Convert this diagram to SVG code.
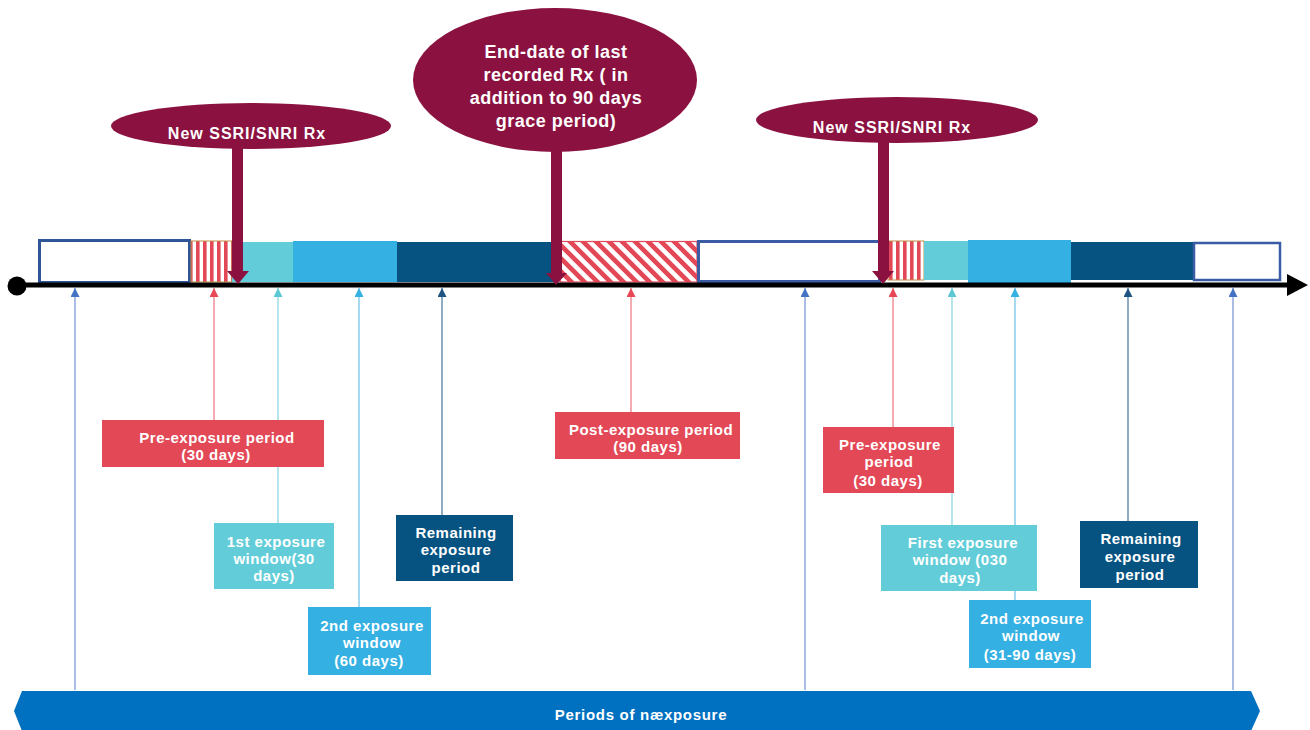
<svg xmlns="http://www.w3.org/2000/svg" width="1310" height="730" viewBox="0 0 1310 730">
<style>
.t{font-family:"Liberation Sans",Arial,sans-serif;font-weight:bold;fill:#fff;text-anchor:middle}
.bx{font-size:15px;letter-spacing:0.5px}
.bub{font-size:16px;letter-spacing:1px}
.big{font-size:18px;letter-spacing:0.5px}
.maroon{fill:#8B1240}
.open{fill:#fff;stroke:#2F5597;stroke-width:3}
.red{fill:#E34856}
.cyan{fill:#62CDD8}
.lblue{fill:#35B0E2}
.dblue{fill:#065381}
.ln{stroke-width:1.3;fill:none}
</style>
<defs>
<pattern id="vstripe" patternUnits="userSpaceOnUse" width="7" height="10">
<rect width="7" height="10" fill="#fff"/>
<rect width="3.6" height="10" fill="#E34856"/>
</pattern>
<pattern id="dstripe" patternUnits="userSpaceOnUse" width="9.2" height="10" patternTransform="rotate(-45)">
<rect width="9.2" height="10" fill="#fff"/>
<rect width="4.6" height="10" fill="#E34856"/>
</pattern>
<marker id="mBlue" markerUnits="userSpaceOnUse" markerWidth="9" markerHeight="9" viewBox="0 0 8 8" refX="8" refY="4" orient="auto"><path d="M0,0 L8,4 L0,8 z" fill="#4472C4"/></marker>
<marker id="mRed" markerUnits="userSpaceOnUse" markerWidth="9" markerHeight="9" viewBox="0 0 8 8" refX="8" refY="4" orient="auto"><path d="M0,0 L8,4 L0,8 z" fill="#E84855"/></marker>
<marker id="mCyan" markerUnits="userSpaceOnUse" markerWidth="9" markerHeight="9" viewBox="0 0 8 8" refX="8" refY="4" orient="auto"><path d="M0,0 L8,4 L0,8 z" fill="#5BC8D6"/></marker>
<marker id="mLblue" markerUnits="userSpaceOnUse" markerWidth="9" markerHeight="9" viewBox="0 0 8 8" refX="8" refY="4" orient="auto"><path d="M0,0 L8,4 L0,8 z" fill="#35B0E2"/></marker>
<marker id="mDblue" markerUnits="userSpaceOnUse" markerWidth="9" markerHeight="9" viewBox="0 0 8 8" refX="8" refY="4" orient="auto"><path d="M0,0 L8,4 L0,8 z" fill="#1F5583"/></marker>
</defs>
<rect width="1310" height="730" fill="#fff"/>

<!-- timeline bars -->
<g id="bars">
<rect class="open" x="39.5" y="240.5" width="150" height="42"/>
<rect x="191" y="241" width="41" height="41" fill="url(#vstripe)" stroke="#C0904A" stroke-width="1"/>
<rect class="cyan" x="232" y="242" width="61" height="40"/>
<rect class="lblue" x="293" y="241" width="104" height="41"/>
<rect class="dblue" x="397" y="242" width="159" height="40"/>
<rect x="560" y="241.5" width="137" height="40.5" fill="url(#dstripe)" stroke="#E34856" stroke-width="1.2"/>
<rect x="698.5" y="241.5" width="181" height="40" fill="#fff" stroke="#3B5BA5" stroke-width="3"/>
<rect x="888" y="241" width="36" height="39" fill="url(#vstripe)" stroke="#C0904A" stroke-width="1"/>
<rect class="cyan" x="924" y="241" width="44" height="39"/>
<rect class="lblue" x="968" y="240" width="103" height="43"/>
<rect class="dblue" x="1071" y="242" width="122" height="38"/>
<rect x="1194" y="243" width="86" height="37" fill="#fff" stroke="#3B5BA5" stroke-width="2.5"/>
</g>

<!-- axis -->
<g id="axis">
<line x1="16" y1="285" x2="1290" y2="285" stroke="#000" stroke-width="5"/>
<circle cx="17" cy="286" r="9.5" fill="#000"/>
<polygon points="1287,274 1308,285 1287,296" fill="#000"/>
</g>

<!-- connectors -->
<g id="connectors">
<line class="ln" x1="75" y1="690" x2="75" y2="288" stroke="#7C9AD6" marker-end="url(#mBlue)"/>
<line class="ln" x1="214" y1="420" x2="214" y2="288" stroke="#EE7F88" marker-end="url(#mRed)"/>
<line class="ln" x1="278" y1="523" x2="278" y2="288" stroke="#8ED8E2" marker-end="url(#mCyan)"/>
<line class="ln" x1="359" y1="607" x2="359" y2="288" stroke="#74C6EB" marker-end="url(#mLblue)"/>
<line class="ln" x1="442" y1="515" x2="442" y2="288" stroke="#4F7FA5" marker-end="url(#mDblue)"/>
<line class="ln" x1="631" y1="412" x2="631" y2="288" stroke="#EE7F88" marker-end="url(#mRed)"/>
<line class="ln" x1="805" y1="690" x2="805" y2="288" stroke="#7C9AD6" marker-end="url(#mBlue)"/>
<line class="ln" x1="893" y1="427" x2="893" y2="288" stroke="#EE7F88" marker-end="url(#mRed)"/>
<line class="ln" x1="952" y1="525" x2="952" y2="288" stroke="#8ED8E2" marker-end="url(#mCyan)"/>
<line class="ln" x1="1015" y1="600" x2="1015" y2="288" stroke="#74C6EB" marker-end="url(#mLblue)"/>
<line class="ln" x1="1128" y1="521" x2="1128" y2="288" stroke="#4F7FA5" marker-end="url(#mDblue)"/>
<line class="ln" x1="1233" y1="690" x2="1233" y2="288" stroke="#7C9AD6" marker-end="url(#mBlue)"/>
<!-- maroon arrows -->
<rect class="maroon" x="232" y="140" width="11" height="132"/>
<polygon class="maroon" points="227,271 249,271 238,284"/>
<rect class="maroon" x="551" y="140" width="11" height="134"/>
<polygon class="maroon" points="546,273 567,273 556,285"/>
<rect class="maroon" x="878" y="138" width="11" height="134"/>
<polygon class="maroon" points="872,271 894,271 883,284"/>
</g>

<!-- bubbles -->
<g id="bubble-new-rx-1">
<ellipse class="maroon" cx="251" cy="126" rx="140" ry="23"/>
<text class="t bub" x="247" y="139">New SSRI/SNRI Rx</text>
</g>
<g id="bubble-end-date">
<ellipse class="maroon" cx="555" cy="80" rx="142" ry="72"/>
<text class="t big" x="556" y="58">End-date of last</text>
<text class="t big" x="556" y="81">recorded Rx ( in</text>
<text class="t big" x="556" y="104">addition to 90 days</text>
<text class="t big" x="556" y="127">grace period)</text>
</g>
<g id="bubble-new-rx-2">
<ellipse class="maroon" cx="897" cy="120" rx="141" ry="23"/>
<text class="t bub" x="892" y="133">New SSRI/SNRI Rx</text>
</g>

<!-- label boxes -->
<g id="pre-exposure-1">
<rect class="red" x="102" y="420" width="222" height="47"/>
<text class="t bx" x="217" y="443">Pre-exposure period</text>
<text class="t bx" x="216" y="460">(30 days)</text>
</g>
<g id="first-exposure-1">
<rect class="cyan" x="214" y="523" width="120" height="66"/>
<text class="t bx" x="276" y="547">1st exposure</text>
<text class="t bx" x="274" y="564">window(30</text>
<text class="t bx" x="274" y="581">days)</text>
</g>
<g id="second-exposure-1">
<rect class="lblue" x="308" y="607" width="123" height="68"/>
<text class="t bx" x="372" y="631">2nd exposure</text>
<text class="t bx" x="372" y="648">window</text>
<text class="t bx" x="369" y="666">(60 days)</text>
</g>
<g id="remaining-1">
<rect class="dblue" x="396" y="515" width="117" height="66"/>
<text class="t bx" x="456" y="538">Remaining</text>
<text class="t bx" x="456" y="555">exposure</text>
<text class="t bx" x="456" y="573">period</text>
</g>
<g id="post-exposure">
<rect class="red" x="555" y="412" width="185" height="47"/>
<text class="t bx" x="651" y="435">Post-exposure period</text>
<text class="t bx" x="648" y="452">(90 days)</text>
</g>
<g id="pre-exposure-2">
<rect class="red" x="823" y="427" width="131" height="66"/>
<text class="t bx" x="890" y="450">Pre-exposure</text>
<text class="t bx" x="889" y="467">period</text>
<text class="t bx" x="888" y="486">(30 days)</text>
</g>
<g id="first-exposure-2">
<rect class="cyan" x="881" y="525" width="156" height="66"/>
<text class="t bx" x="963" y="548">First exposure</text>
<text class="t bx" x="960" y="565">window (030</text>
<text class="t bx" x="960" y="583">days)</text>
</g>
<g id="second-exposure-2">
<rect class="lblue" x="969" y="600" width="122" height="68"/>
<text class="t bx" x="1032" y="624">2nd exposure</text>
<text class="t bx" x="1031" y="641">window</text>
<text class="t bx" x="1030" y="660">(31-90 days)</text>
</g>
<g id="remaining-2">
<rect class="dblue" x="1080" y="521" width="118" height="67"/>
<text class="t bx" x="1141" y="544">Remaining</text>
<text class="t bx" x="1140" y="562">exposure</text>
<text class="t bx" x="1140" y="580">period</text>
</g>

<!-- banner -->
<g id="non-exposure-banner">
<polygon points="14,711 22,691 1251,691 1260,711 1251,731 22,731" fill="#0070C0"/>
<text class="t" x="641" y="720" font-size="15px" style="letter-spacing:0.7px">Periods of næxposure</text>
</g>
</svg>
